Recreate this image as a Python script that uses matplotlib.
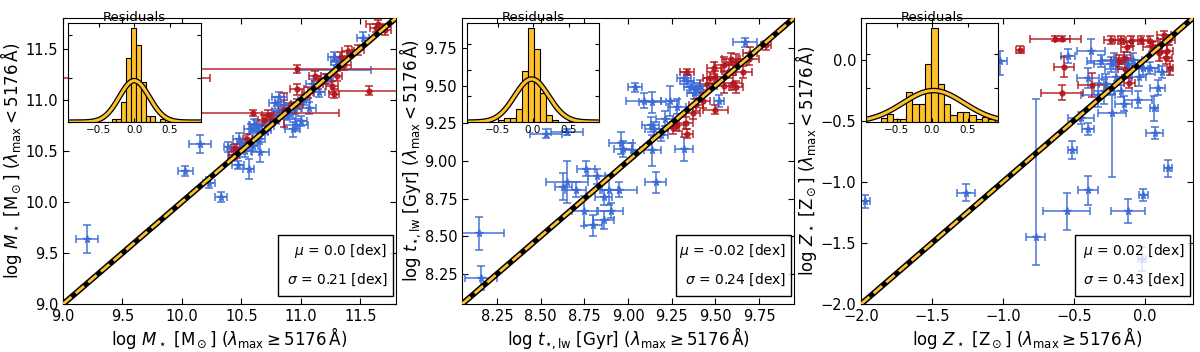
import numpy as np
import matplotlib
matplotlib.use('Agg')
import matplotlib.pyplot as plt
from matplotlib.patches import Rectangle
from matplotlib.ticker import MultipleLocator

BLUE = '#3a6ad6'
RED = '#b3161c'
GOLD = '#ffc12b'

# --- stellar mass panel ---
mass_blue_x = [9.20, 10.03, 10.15, 10.23, 10.33, 10.39, 10.47, 10.56, 10.66, 10.48, 10.50, 10.58, 10.61,
               10.64, 10.70, 10.75, 10.78, 10.82, 10.83, 10.88, 10.93, 11.00, 10.96, 11.07, 10.86, 10.80,
               10.72, 11.03, 11.10, 11.15, 11.28, 11.28, 11.30, 11.52, 11.22, 10.65, 10.53, 10.44, 10.90,
               10.95, 10.60, 10.62]
mass_blue_y = [9.64, 10.30, 10.57, 10.19, 10.05, 10.54, 10.36, 10.32, 10.49, 10.62, 10.58, 10.71, 10.75,
               10.68, 10.70, 10.79, 10.97, 11.03, 10.89, 10.85, 10.71, 10.79, 10.75, 10.92, 10.95, 10.84,
               10.74, 11.00, 11.15, 11.08, 11.29, 11.42, 11.38, 11.60, 11.20, 10.62, 10.50, 10.46, 10.86,
               10.92, 10.55, 10.75]
mass_blue_xerr = [0.094, 0.065, 0.094, 0.05, 0.05, 0.04, 0.05, 0.05, 0.07, 0.05, 0.04, 0.06, 0.05,
                  0.08, 0.05, 0.07, 0.05, 0.06, 0.07, 0.05, 0.06, 0.05, 0.10, 0.06, 0.05, 0.05,
                  0.05, 0.05, 0.06, 0.05, 0.31, 0.05, 0.05, 0.05, 0.05, 0.05, 0.05, 0.05, 0.06,
                  0.05, 0.04, 0.05]
mass_blue_yerr = [0.137, 0.05, 0.088, 0.05, 0.05, 0.05, 0.04, 0.10, 0.10, 0.05, 0.04, 0.05, 0.06,
                  0.05, 0.04, 0.05, 0.06, 0.05, 0.06, 0.05, 0.07, 0.05, 0.06, 0.06, 0.05, 0.05,
                  0.05, 0.05, 0.05, 0.05, 0.05, 0.05, 0.04, 0.06, 0.05, 0.05, 0.06, 0.05, 0.05,
                  0.06, 0.05, 0.05]
mass_red_x = [10.97, 9.60, 11.57, 10.60, 11.65, 11.71, 11.63, 11.40, 11.34, 11.36, 11.30, 11.26, 11.28,
              11.12, 11.14, 10.97, 11.06, 10.86, 10.97, 10.90, 10.72, 10.76, 10.55, 10.45, 10.44, 10.69,
              11.48, 11.20]
mass_red_y = [11.30, 11.21, 11.09, 10.87, 11.74, 11.68, 11.70, 11.48, 11.42, 11.34, 11.23, 11.13, 11.06,
              11.23, 11.15, 11.10, 11.07, 10.90, 10.96, 10.92, 10.85, 10.80, 10.62, 10.53, 10.46, 10.80,
              11.49, 11.20]
mass_red_xerr = [1.5, 0.64, 0.29, 0.72, 0.10, 0.05, 0.05, 0.05, 0.05, 0.06, 0.05, 0.05, 0.04,
                 0.05, 0.05, 0.06, 0.05, 0.04, 0.05, 0.05, 0.05, 0.05, 0.04, 0.04, 0.04, 0.05,
                 0.05, 0.05]
mass_red_yerr = [0.04, 0.03, 0.04, 0.03, 0.04, 0.05, 0.04, 0.05, 0.05, 0.05, 0.05, 0.05, 0.04,
                 0.05, 0.05, 0.05, 0.05, 0.17, 0.05, 0.05, 0.05, 0.05, 0.04, 0.04, 0.04, 0.05,
                 0.05, 0.05]
mass_hist_start = -0.794
mass_hist_width = 0.068
mass_hist = [0.10, 0, 0, 0, 0, 0, 0, 0.15, 0.15, 0.91, 2.92, 4.33, 3.53, 1.85, 0.26, 0.26, 0, 0.15]
mass_mu, mass_sigma = 0.0, 0.21

# --- age panel ---
age_blue_x = [8.15, 8.16, 8.65, 8.63, 8.70, 8.75, 8.80, 8.86, 8.90, 8.86, 8.89, 8.95, 8.82, 8.76,
              8.96, 8.97, 9.02, 9.16, 9.14, 9.15, 9.19, 9.13, 9.21, 9.04, 9.09, 9.14, 9.24, 9.28,
              8.53, 8.65, 9.32, 9.34, 9.36, 9.39, 9.41, 9.32, 9.38, 9.52, 9.67]
age_blue_y = [8.52, 8.225, 8.86, 8.83, 8.81, 8.67, 8.575, 8.61, 8.67, 8.76, 8.81, 8.81, 8.90, 8.95,
              9.12, 9.08, 9.07, 8.86, 9.07, 9.21, 9.17, 9.24, 9.28, 9.49, 9.40, 9.39, 9.40, 9.36,
              9.18, 9.19, 9.08, 9.53, 9.49, 9.48, 9.50, 9.55, 9.45, 9.40, 9.79]
age_blue_xerr = [0.14, 0.09, 0.12, 0.05, 0.06, 0.07, 0.05, 0.06, 0.07, 0.05, 0.05, 0.10, 0.05, 0.05,
                 0.07, 0.05, 0.05, 0.06, 0.05, 0.05, 0.04, 0.05, 0.05, 0.04, 0.10, 0.08, 0.05, 0.05,
                 0.09, 0.09, 0.05, 0.04, 0.04, 0.04, 0.04, 0.04, 0.04, 0.03, 0.07]
age_blue_yerr = [0.11, 0.08, 0.14, 0.09, 0.05, 0.10, 0.07, 0.06, 0.05, 0.05, 0.10, 0.05, 0.05, 0.05,
                 0.07, 0.05, 0.05, 0.07, 0.10, 0.05, 0.04, 0.05, 0.05, 0.03, 0.05, 0.07, 0.10, 0.05,
                 0.03, 0.02, 0.08, 0.04, 0.04, 0.04, 0.04, 0.04, 0.04, 0.04, 0.03]
age_red_x = [9.79, 9.59, 9.62, 9.58, 9.66, 9.49, 9.50, 9.47, 9.55, 9.60, 9.62, 9.34, 9.43, 9.39,
             9.50, 9.37, 9.33, 9.28, 9.26, 9.34, 9.55, 9.69, 9.45, 9.70]
age_red_y = [9.77, 9.68, 9.66, 9.60, 9.59, 9.62, 9.56, 9.55, 9.50, 9.52, 9.49, 9.59, 9.40, 9.37,
             9.34, 9.32, 9.25, 9.24, 9.22, 9.18, 9.64, 9.68, 9.51, 9.72]
age_red_xerr = [0.03, 0.05, 0.06, 0.04, 0.05, 0.04, 0.05, 0.04, 0.04, 0.05, 0.04, 0.04, 0.04, 0.04,
                0.07, 0.04, 0.04, 0.04, 0.03, 0.03, 0.05, 0.06, 0.04, 0.04]
age_red_yerr = [0.03, 0.04, 0.05, 0.05, 0.04, 0.04, 0.04, 0.04, 0.05, 0.05, 0.04, 0.02, 0.05, 0.04,
                0.03, 0.04, 0.04, 0.04, 0.04, 0.03, 0.05, 0.04, 0.04, 0.04]
age_hist_start = -0.4925
age_hist_width = 0.0845
age_hist = [0.065, 0.14, 0.14, 0.52, 1.96, 3.65, 2.81, 1.12, 0.27, 0.065, 0, 0, 0, 0, 0.065]
age_mu, age_sigma = -0.02, 0.24

# --- metallicity panel ---
met_blue_x = [-1.97, -1.26, -0.77, -0.55, -0.40, -0.12, -0.01, 0.165, 0.07, 0.065, -0.51, -0.40, -0.45,
              -0.23, -0.02, -1.02, -0.54, -0.38, -0.22, -0.40, -0.29, -0.15, -0.05, 0.09, -0.24, -0.125,
              -0.08, -0.01, -0.27, -0.31, 0.04, 0.12, -0.17, -0.13, -0.04, -0.20, -0.33]
met_blue_y = [-1.16, -1.09, -1.45, -1.24, -1.07, -1.24, -1.11, -0.89, -0.60, -0.40, -0.74, -0.57, -0.48,
              -0.44, -1.63, -0.01, 0.03, 0.07, 0.00, -0.15, -0.26, -0.36, -0.33, -0.23, -0.04, -0.04,
              0.00, -0.07, -0.20, -0.01, -0.07, -0.10, -0.26, -0.08, -0.14, -0.14, -0.29]
met_blue_xerr = [0.03, 0.06, 0.07, 0.165, 0.07, 0.12, 0.03, 0.03, 0.06, 0.03, 0.03, 0.04, 0.09,
                 0.10, 0.03, 0.05, 0.05, 0.10, 0.08, 0.08, 0.07, 0.06, 0.10, 0.05, 0.12, 0.08,
                 0.06, 0.10, 0.05, 0.10, 0.06, 0.05, 0.08, 0.15, 0.05, 0.10, 0.12]
met_blue_ylo = [0.05, 0.07, 0.23, 0.15, 0.12, 0.10, 0.05, 0.07, 0.05, 0.10, 0.07, 0.05, 0.05,
                0.52, 0.10, 0.12, 0.06, 0.10, 0.05, 0.08, 0.10, 0.06, 0.07, 0.06, 0.06, 0.08,
                0.05, 0.06, 0.08, 0.05, 0.05, 0.05, 0.05, 0.06, 0.08, 0.06, 0.10]
met_blue_yhi = [0.05, 0.07, 1.13, 0.15, 0.12, 0.10, 0.05, 0.07, 0.05, 0.10, 0.07, 0.05, 0.05,
                0.16, 0.10, 0.08, 0.06, 0.10, 0.05, 0.08, 0.10, 0.06, 0.07, 0.06, 0.06, 0.08,
                0.05, 0.06, 0.08, 0.05, 0.05, 0.05, 0.05, 0.06, 0.08, 0.06, 0.10]
met_red_x = [-0.63, -0.58, -0.88, -0.57, -0.585, -0.37, -0.14, -0.11, -0.15, -0.24, -0.17, -0.10,
             -0.03, 0.04, 0.11, 0.16, 0.15, 0.18, 0.135, 0.17, -0.125, -0.18, 0.10, 0.05]
met_red_y = [0.17, 0.17, 0.08, -0.06, -0.27, -0.21, -0.08, -0.19, 0.01, 0.16, 0.16, 0.15,
             0.16, 0.15, 0.12, 0.07, 0.01, -0.07, 0.20, 0.16, 0.10, -0.01, 0.05, 0.10]
met_red_xerr = [0.18, 0.05, 0.03, 0.07, 0.15, 0.10, 0.05, 0.04, 0.05, 0.05, 0.04, 0.05,
                0.05, 0.05, 0.05, 0.04, 0.04, 0.02, 0.05, 0.04, 0.04, 0.06, 0.06, 0.06]
met_red_yerr = [0.02, 0.02, 0.03, 0.08, 0.06, 0.10, 0.05, 0.04, 0.05, 0.03, 0.03, 0.04,
                0.03, 0.04, 0.05, 0.05, 0.05, 0.06, 0.03, 0.04, 0.04, 0.05, 0.06, 0.04]
met_hist_start = -0.722
met_hist_width = 0.089
met_hist = [0.12, 0.24, 0.10, 0.08, 0.90, 0.54, 0.54, 1.71, 2.78, 1.12, 0.54, 0.20, 0.29, 0.29,
            0.20, 0.10, 0.15, 0.10]
met_mu, met_sigma = 0.02, 0.43


def plot_panel(ax, blue, red, lims, step, hist, mu, sigma, mu_txt, xlabel, ylabel):
    bx, by, bxe, bye = blue
    rx, ry, rxe, rye = red
    ax.errorbar(bx, by, xerr=bxe, yerr=bye, fmt='*', color=BLUE, ms=5.5, capsize=3,
                elinewidth=1.2, capthick=1.2, alpha=0.85, zorder=2)
    ax.errorbar(rx, ry, xerr=rxe, yerr=rye, fmt='o', color=RED, ms=3.5, capsize=3,
                elinewidth=1.2, capthick=1.2, alpha=0.85, zorder=2)
    ax.plot(lims, lims, color='k', lw=4.2, zorder=3, solid_capstyle='butt')
    ax.plot(lims, lims, color=GOLD, lw=2, ls=(0, (4, 2)), zorder=4)
    ax.set_xlim(lims)
    ax.set_ylim(lims)
    ax.xaxis.set_major_locator(MultipleLocator(step))
    ax.yaxis.set_major_locator(MultipleLocator(step))
    ax.tick_params(direction='in', top=True, right=True, labelsize=10.5, length=4)
    ax.set_xlabel(xlabel, fontsize=12, labelpad=1)
    ax.set_ylabel(ylabel, fontsize=12, labelpad=1)

    # stats box
    ax.add_patch(Rectangle((0.646, 0.028), 0.344, 0.213, transform=ax.transAxes,
                           facecolor=(1, 1, 1, 0.8), edgecolor='k', lw=1, zorder=5))
    ax.text(0.975, 0.185, r'$\mu$ = ' + mu_txt + ' [dex]', transform=ax.transAxes,
            ha='right', va='center', fontsize=10, zorder=6)
    ax.text(0.975, 0.086, r'$\sigma$ = %.2f [dex]' % sigma, transform=ax.transAxes,
            ha='right', va='center', fontsize=10, zorder=6)

    # residual histogram
    start, width, heights = hist
    lefts = start + width * np.arange(len(heights))
    ins = ax.inset_axes([0.015, 0.636, 0.398, 0.347])
    ins.set_zorder(7)
    ins.bar(lefts, heights, width=width, align='edge', color=GOLD, edgecolor='k', lw=0.8)
    xs = np.linspace(-0.93, 0.93, 300)
    g = np.exp(-0.5 * ((xs - mu) / sigma) ** 2) / (sigma * np.sqrt(2 * np.pi))
    ins.plot(xs, g, color='k', lw=4)
    ins.plot(xs, g, color=GOLD, lw=2.2)
    ins.set_xlim(-0.93, 0.93)
    ins.set_ylim(0, max(heights) * 1.05)
    ins.set_xticks([-0.5, 0.0, 0.5])
    ins.set_yticklabels([])
    ins.tick_params(direction='in', top=True, right=True, labelsize=7.5, length=3, pad=2)
    ins.set_title('Residuals', fontsize=9.5, pad=1)


fig = plt.figure(figsize=(12, 3.52), dpi=100)
ax1 = fig.add_axes([0.0525, 0.136, 0.2775, 0.813])
ax2 = fig.add_axes([0.385, 0.136, 0.2767, 0.813])
ax3 = fig.add_axes([0.7175, 0.136, 0.2767, 0.813])

plot_panel(ax1, (mass_blue_x, mass_blue_y, mass_blue_xerr, mass_blue_yerr),
           (mass_red_x, mass_red_y, mass_red_xerr, mass_red_yerr),
           [9.0, 11.8], 0.5, (mass_hist_start, mass_hist_width, mass_hist), mass_mu, mass_sigma, '0.0',
           r'log $M_\star$ [M$_\odot$] ($\lambda_{\rm max} \geq 5176\,$Å)',
           r'log $M_\star$ [M$_\odot$] ($\lambda_{\rm max} < 5176\,$Å)')
plot_panel(ax2, (age_blue_x, age_blue_y, age_blue_xerr, age_blue_yerr),
           (age_red_x, age_red_y, age_red_xerr, age_red_yerr),
           [8.05, 9.95], 0.25, (age_hist_start, age_hist_width, age_hist), age_mu, age_sigma, '-0.02',
           r'log $t_{\star,\rm lw}$ [Gyr] ($\lambda_{\rm max} \geq 5176\,$Å)',
           r'log $t_{\star,\rm lw}$ [Gyr] ($\lambda_{\rm max} < 5176\,$Å)')
plot_panel(ax3, (met_blue_x, met_blue_y, met_blue_xerr, [met_blue_ylo, met_blue_yhi]),
           (met_red_x, met_red_y, met_red_xerr, met_red_yerr),
           [-2.0, 0.34], 0.5, (met_hist_start, met_hist_width, met_hist), met_mu, met_sigma, '0.02',
           r'log $Z_\star$ [Z$_\odot$] ($\lambda_{\rm max} \geq 5176\,$Å)',
           r'log $Z_\star$ [Z$_\odot$] ($\lambda_{\rm max} < 5176\,$Å)')

fig.savefig('out.png', dpi=100)
